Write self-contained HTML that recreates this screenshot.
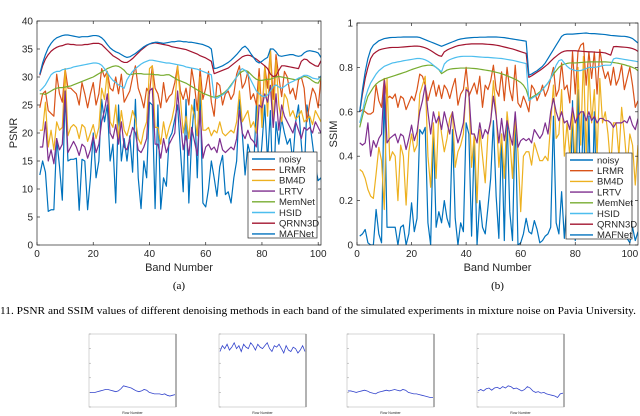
<!DOCTYPE html>
<html><head><meta charset="utf-8"><style>
body{margin:0;background:#fff;width:640px;height:416px;overflow:hidden}
svg{display:block}
text{font-family:"Liberation Sans",sans-serif;fill:#262626}
.serif{font-family:"Liberation Serif",serif;fill:#000}
</style></head><body>
<svg id="fig" width="640" height="416"></svg>
<script>
const bands=[];for(let i=1;i<=103;i++)bands.push(i);
const seriesNames=["noisy","LRMR","BM4D","LRTV","MemNet","HSID","QRNN3D","MAFNet"];
const seriesColors=["#0072BD","#D95319","#EDB120","#7E2F8E","#77AC30","#4DBEEE","#A2142F","#0072BD"];
const psnrNoisy=[12.5,15,13,6,6.3,6.3,19,14,8,27,15,15.3,15.3,15.5,6.2,15.3,15,6.3,12,20,12,15,26,22,25,15,18,7.5,25,15,19,15,19.5,13,26,12,6.5,15,12,25.5,25,6.5,25,6.4,12,10.5,19,20,22.5,25,17,9.5,26,7.5,19,26,12,27,7.5,6.8,10,15,12,8.7,14,16,9,9.5,7.5,12,15,26,20,12.5,18,16,13,25,12,18,25,15,24,7.5,22,18,22.5,20,18,19,15,22,25,18,12,25,22,18,14,11.5,12,8,11];
const psnrLRMR=[24.5,27,27.5,24,23.5,23,30.5,27,25.5,31.5,28,28,27.5,27,25,29,27,24.5,27,29,25,27,31.5,30,31,28,27.5,30,27,30.5,25.5,26.5,27.5,30,32,28,26.5,24.5,28,27,32,28,27,24.5,29,25.5,26.5,27,29,32,27.5,26,28,25,31.5,28.5,24,31.5,26,28,31,25.5,23,29,28.5,25,27,27.5,26,27,30.5,32,28,29,31,26,27,25,31.5,23,32,28,35,26,34,30,26.5,31,30,27,28,26,29.5,30,28,22,25.5,28,27,24.5,30,27,25];
const psnrBM4D=[20.5,20.5,25.5,17.5,20.5,17,22,20.5,21,31.5,19.5,21,21.5,21,19,21.5,21,18.5,20,21.5,19,21,28,26,31,22,21,25,19,24,20.5,19.5,21.5,24,22.5,19,18,20.5,22,31.5,32,21,21,18,22,19,21,22.5,25,32,26,20,23,19,25,23,19.5,30,20.5,20.5,21,19.5,20.5,20,22,20,19.5,20,20.5,20,22,27.5,22,23,24,21,22,20,30,21,32,23,35,21,33,25,22,27,26,23,24,22.5,23,24,22,22.5,23,21.5,24,23,22,25,20];
const psnrLRTV=[17.5,17.5,22,15,17,14.5,19,17,18,27.5,16.5,17.5,18.5,17.5,16,18,17.5,15.5,17,19.5,16.5,18,22,24,27,20,19,21.5,18,22,17.5,17,19,21,20,17,16.5,17.5,19,27.5,28,18,18,15.5,19,16.5,18,19,20,27.5,22,17,19.5,16,21,18.5,16,24,15.5,17.5,18,17,17.5,16.5,19,17,16.5,17,17.5,17,19,24,20,19,20.5,19,18.5,17.5,25,24.5,27,25.5,28.5,21,27,20.5,25,23,22,21,20,22,20.5,19,21,20.5,21,20,22,21,20,22,17.5];
const psnrMemNet=[27,27,26.9,27.2,27.5,27.8,28,28.1,28.1,28.2,28.3,28.4,28.6,28.8,29,29.2,29.4,29.6,29.8,30,30.3,30.6,30.9,31.2,31.5,31.7,31.9,32,31.9,31.6,31.2,30.6,30.4,30.5,30.6,30.6,30.6,30.5,30.5,30.5,30.5,30.4,30.4,30.3,30.3,30.4,30.4,30.1,29.8,29.5,29.3,29.1,28.9,28.6,28.3,28,27.7,27.4,27.1,26.9,26.7,26.5,26.4,26.5,26.7,27,27.4,27.9,28.6,29.3,30,30.6,31,31.2,31,30.5,30,29.6,29.4,29.4,29.5,29.6,29.6,29.8,30,30.1,30,29.9,29.8,29.7,29.6,29.5,29.6,29.9,30.1,30,29.7,29.3,29,28.9,29.8,29.2,28.9];
const psnrHSID=[27.5,28,28.6,29.5,30.4,30.8,31,31,31.3,31.4,31.5,31.6,31.8,31.9,32,32.1,32.2,32.3,32.4,32.5,32.5,32.4,32.1,31.5,30.8,30,29.4,29,28.6,28.3,28,29.5,30.3,31,31.5,31.9,32.3,32.6,32.8,33,33,32.9,32.8,32.7,32.6,32.5,32.5,32.4,32.3,32.2,32.1,32,31.8,31.7,31.6,31.5,31.4,31.2,31,30.8,30.6,30.4,26.3,26.2,26.5,26.8,27.2,27.8,28.4,29.2,30,31,31.5,31.2,30.5,29.5,28.5,27.5,27,26.6,26.5,26.8,27.5,28.3,28.6,28.2,28,28.3,28.7,29,29.2,29.5,29.8,30,30.3,30.3,30.1,29.8,29.7,29.6,30.2,29.8,30];
const psnrQRNN3D=[30.3,32,33.2,34,34.6,35,35.3,35.5,35.6,35.8,35.9,35.8,35.8,35.7,35.7,35.7,35.8,35.8,35.9,36,36,36,35.8,35.3,34.8,34.3,33.8,33.5,33.2,32.8,32.6,32.6,32.9,33.3,33.8,34.3,34.8,35.2,35.6,35.9,36,36.1,36,35.9,35.8,35.7,35.6,35.4,35.3,35.2,35.1,35,34.9,34.7,34.5,34.3,34.1,33.8,33.6,33.4,33.1,32.8,30.6,30.8,31,31.2,31.4,31.6,32,32.4,32.8,33.2,33.6,33.8,33.9,33.8,33.5,33.2,32.8,32.4,32,31.5,30.5,30.1,30.2,31.2,32,32,31.9,31.8,31.7,31.6,31.5,32.8,33.2,33.1,32.6,32.3,32,31.9,32.9,32.3,31.8];
const psnrMAFNet=[30.5,32.5,34,35.2,36,36.6,37,37.2,37.4,37.5,37.5,37.4,37.3,37.2,37.1,37.2,37.2,37.2,37.3,37.4,37.4,37.3,37,36.5,35.8,35.2,34.8,34.5,34.3,34,33.7,33.5,33.6,33.9,34.2,34.6,35,35.4,35.7,35.9,36.1,36.2,36.2,36.1,36,36.1,36.2,36.3,36.3,36.4,36.4,36.3,36.3,36.2,36.2,36.1,36,35.9,35.8,35.6,35.4,35,31.5,31.6,31.8,32,32.3,32.6,33,33.5,34,34.6,35.2,35.5,35,34.2,33.5,32.8,32.5,32.8,33.2,33.5,35,35,34.5,33.8,33.7,33.8,33.9,34,34,33.8,33.7,33.8,34.3,34.6,34.7,34.6,34.5,34.3,33.5,34,33.8];
const ssimNoisy=[0.04,0.05,0.07,0.01,0,0,0.16,0.05,0.01,0.72,0.08,0.08,0.08,0.08,0,0.08,0.09,0,0.05,0.19,0.06,0.12,0.52,0.5,0.53,0.1,0,0.52,0.08,0.15,0.1,0.2,0.12,0.08,0.52,0.12,0,0.1,0.06,0.55,0.5,0.04,0.48,0,0.2,0.08,0.05,0.17,0.3,0.56,0.22,0.03,0.5,0.02,0.58,0.15,0.02,0.58,0,0.01,0.05,0.12,0.06,0.05,0.11,0.07,0.01,0.02,0.04,0.05,0.08,0.58,0.1,0.05,0.24,0.03,0.2,0.05,0.65,0.02,0.7,0.2,0.6,0.1,0.58,0.05,0.6,0.1,0.4,0.2,0.15,0.1,0.05,0.1,0.15,0.2,0.1,0.05,0.03,0.01,0.08,0.02,0.06];
const ssimLRMR=[0.6,0.61,0.6,0.59,0.59,0.6,0.72,0.65,0.62,0.75,0.66,0.67,0.66,0.68,0.62,0.67,0.66,0.61,0.64,0.67,0.65,0.7,0.77,0.76,0.72,0.65,0.7,0.74,0.67,0.72,0.66,0.72,0.7,0.66,0.71,0.75,0.63,0.68,0.7,0.8,0.67,0.7,0.73,0.68,0.76,0.62,0.72,0.7,0.74,0.81,0.7,0.67,0.78,0.65,0.8,0.7,0.65,0.81,0.64,0.62,0.67,0.64,0.6,0.72,0.7,0.65,0.68,0.72,0.67,0.7,0.75,0.8,0.67,0.7,0.82,0.7,0.72,0.64,0.87,0.68,0.87,0.9,0.91,0.72,0.87,0.75,0.87,0.68,0.88,0.8,0.75,0.78,0.72,0.8,0.72,0.75,0.81,0.7,0.75,0.8,0.72,0.62,0.65];
const ssimBM4D=[0.34,0.33,0.3,0.25,0.22,0.21,0.32,0.44,0.38,0.16,0.75,0.38,0.42,0.4,0.2,0.45,0.4,0.18,0.42,0.5,0.42,0.45,0.68,0.72,0.76,0.4,0.26,0.55,0.3,0.6,0.5,0.42,0.48,0.57,0.6,0.35,0.42,0.45,0.5,0.71,0.68,0.35,0.5,0.19,0.52,0.4,0.28,0.5,0.55,0.74,0.6,0.35,0.5,0.3,0.6,0.48,0.3,0.57,0.42,0.15,0.4,0.42,0.42,0.36,0.46,0.42,0.38,0.38,0.4,0.38,0.55,0.72,0.48,0.5,0.7,0.4,0.55,0.4,0.6,0.35,0.8,0.45,0.85,0.4,0.8,0.55,0.7,0.4,0.75,0.55,0.6,0.5,0.35,0.55,0.55,0.4,0.62,0.5,0.35,0.5,0.45,0.27,0.45];
const ssimLRTV=[0.46,0.45,0.46,0.55,0.4,0.47,0.44,0.48,0.5,0.74,0.46,0.48,0.49,0.5,0.46,0.5,0.49,0.43,0.48,0.54,0.47,0.51,0.6,0.65,0.72,0.6,0.5,0.6,0.55,0.58,0.52,0.6,0.55,0.5,0.6,0.52,0.46,0.5,0.55,0.7,0.69,0.5,0.5,0.46,0.55,0.48,0.52,0.5,0.56,0.67,0.58,0.46,0.57,0.47,0.56,0.5,0.45,0.6,0.44,0.47,0.48,0.47,0.48,0.46,0.52,0.5,0.48,0.5,0.55,0.5,0.6,0.66,0.6,0.56,0.6,0.55,0.56,0.52,0.62,0.55,0.58,0.6,0.6,0.56,0.6,0.56,0.58,0.55,0.57,0.57,0.56,0.56,0.55,0.53,0.55,0.55,0.55,0.56,0.55,0.58,0.54,0.52,0.57];
const ssimMemNet=[0.53,0.58,0.63,0.67,0.69,0.71,0.725,0.735,0.742,0.748,0.752,0.756,0.76,0.764,0.768,0.772,0.776,0.78,0.785,0.79,0.794,0.798,0.802,0.806,0.808,0.81,0.81,0.808,0.8,0.79,0.772,0.78,0.788,0.792,0.794,0.795,0.796,0.797,0.797,0.797,0.797,0.796,0.795,0.794,0.792,0.79,0.788,0.786,0.784,0.781,0.778,0.775,0.771,0.767,0.762,0.757,0.752,0.746,0.74,0.732,0.72,0.7,0.66,0.665,0.672,0.68,0.69,0.7,0.715,0.73,0.75,0.77,0.785,0.8,0.81,0.815,0.818,0.82,0.82,0.82,0.821,0.822,0.823,0.824,0.825,0.825,0.825,0.825,0.825,0.825,0.825,0.824,0.823,0.822,0.82,0.818,0.815,0.812,0.808,0.805,0.8,0.795,0.785];
const ssimHSID=[0.55,0.6,0.66,0.7,0.73,0.75,0.77,0.785,0.795,0.805,0.81,0.815,0.82,0.822,0.825,0.827,0.83,0.832,0.834,0.836,0.838,0.84,0.84,0.838,0.834,0.828,0.82,0.81,0.8,0.79,0.78,0.815,0.828,0.835,0.84,0.844,0.847,0.849,0.85,0.85,0.85,0.85,0.849,0.848,0.847,0.846,0.845,0.845,0.844,0.843,0.842,0.841,0.84,0.838,0.836,0.834,0.832,0.829,0.826,0.823,0.82,0.817,0.65,0.66,0.668,0.675,0.685,0.7,0.715,0.73,0.75,0.78,0.81,0.83,0.835,0.82,0.805,0.795,0.79,0.786,0.785,0.786,0.79,0.795,0.8,0.8,0.8,0.802,0.805,0.808,0.81,0.81,0.81,0.838,0.842,0.84,0.838,0.836,0.834,0.832,0.83,0.828,0.825];
const ssimQRNN3D=[0.6,0.68,0.75,0.8,0.84,0.86,0.87,0.878,0.882,0.885,0.887,0.889,0.89,0.89,0.89,0.891,0.892,0.893,0.894,0.895,0.896,0.896,0.895,0.892,0.888,0.883,0.876,0.868,0.86,0.853,0.85,0.87,0.878,0.884,0.889,0.894,0.898,0.9,0.902,0.904,0.905,0.906,0.906,0.906,0.906,0.906,0.905,0.904,0.903,0.902,0.9,0.898,0.895,0.892,0.889,0.886,0.883,0.879,0.875,0.871,0.867,0.863,0.755,0.762,0.77,0.778,0.786,0.795,0.805,0.815,0.828,0.84,0.85,0.86,0.868,0.873,0.875,0.875,0.875,0.875,0.874,0.873,0.872,0.871,0.87,0.87,0.869,0.868,0.868,0.867,0.865,0.86,0.855,0.893,0.894,0.893,0.892,0.891,0.89,0.888,0.885,0.88,0.872];
const ssimMAFNet=[0.6,0.7,0.78,0.84,0.88,0.9,0.91,0.92,0.925,0.93,0.932,0.934,0.935,0.935,0.936,0.936,0.937,0.937,0.937,0.937,0.937,0.937,0.935,0.93,0.925,0.92,0.915,0.91,0.905,0.9,0.895,0.9,0.905,0.91,0.915,0.92,0.925,0.928,0.93,0.932,0.933,0.934,0.935,0.935,0.936,0.936,0.936,0.937,0.937,0.937,0.937,0.936,0.935,0.934,0.932,0.93,0.928,0.926,0.924,0.922,0.92,0.918,0.765,0.77,0.778,0.785,0.795,0.805,0.82,0.84,0.86,0.88,0.9,0.92,0.94,0.948,0.95,0.95,0.95,0.951,0.952,0.953,0.954,0.955,0.953,0.952,0.952,0.951,0.95,0.949,0.948,0.946,0.944,0.943,0.942,0.941,0.94,0.94,0.938,0.935,0.93,0.92,0.91];
const xTicks=[0,20,40,60,80,100];
const psnrTicks=[0,5,10,15,20,25,30,35,40];
const ssimTicks=[0,0.2,0.4,0.6,0.8,1];
const ssimTickLabels=["0","0.2","0.4","0.6","0.8","1"];
const mini1=[0.10,0.10,0.10,0.105,0.11,0.115,0.12,0.12,0.115,0.11,0.105,0.11,0.125,0.145,0.14,0.135,0.13,0.12,0.11,0.105,0.11,0.12,0.115,0.1,0.095,0.09,0.09,0.09,0.085,0.09,0.08,0.075,0.08,0.085];
const mini2=[0.38,0.42,0.4,0.43,0.39,0.41,0.44,0.4,0.42,0.38,0.43,0.41,0.4,0.44,0.42,0.39,0.43,0.41,0.4,0.42,0.44,0.4,0.38,0.42,0.41,0.43,0.4,0.37,0.42,0.39,0.38,0.41,0.4,0.37,0.39,0.42,0.38];
const mini3=[0.11,0.11,0.105,0.1,0.105,0.11,0.115,0.11,0.1,0.095,0.09,0.1,0.105,0.11,0.115,0.11,0.115,0.12,0.115,0.11,0.12,0.115,0.1,0.095,0.09,0.09,0.085,0.08,0.075,0.07,0.065,0.065];
const mini4=[0.11,0.12,0.11,0.125,0.13,0.115,0.13,0.135,0.125,0.14,0.13,0.145,0.14,0.125,0.13,0.12,0.11,0.12,0.14,0.13,0.11,0.1,0.105,0.095,0.1,0.09,0.085,0.08,0.075,0.065,0.09,0.095];
const psnrData=[psnrNoisy,psnrLRMR,psnrBM4D,psnrLRTV,psnrMemNet,psnrHSID,psnrQRNN3D,psnrMAFNet];
const ssimData=[ssimNoisy,ssimLRMR,ssimBM4D,ssimLRTV,ssimMemNet,ssimHSID,ssimQRNN3D,ssimMAFNet];

const NS="http://www.w3.org/2000/svg";
const svg=document.getElementById('fig');
function mk(tag,attrs,parent,txt){const e=document.createElementNS(NS,tag);for(const k in attrs)e.setAttribute(k,attrs[k]);if(txt!==undefined)e.textContent=txt;(parent||svg).appendChild(e);return e;}

function drawPanel(cfg){
  const g=mk('g',{},svg);
  
  
  const sx=v=>cfg.L+(v-cfg.x0)/(cfg.x1-cfg.x0)*(cfg.R-cfg.L);
  const sy=v=>cfg.B-(v-cfg.y0)/(cfg.y1-cfg.y0)*(cfg.B-cfg.T);
  const clipId=cfg.name+'-clip';
  const cp=mk('clipPath',{id:clipId},g);mk('rect',{x:cfg.L,y:cfg.T,width:cfg.R-cfg.L,height:cfg.B-cfg.T},cp);
  const lines=mk('g',{'clip-path':'url(#'+clipId+')'},g);
  cfg.data.forEach((arr,si)=>{
    const pts=arr.map((v,i)=>sx(bands[i]).toFixed(2)+','+sy(v).toFixed(2)).join(' ');
    const pl=mk('polyline',{points:pts,fill:'none',stroke:seriesColors[si],'stroke-width':1.2,'stroke-linejoin':'round'},lines);
    
    
  });
  const fr=mk('rect',{x:cfg.L,y:cfg.T,width:cfg.R-cfg.L,height:cfg.B-cfg.T,fill:'none',stroke:'#262626','stroke-width':0.7},g);
  
  
  xTicks.forEach(t=>{const x=sx(t);
    mk('line',{x1:x,x2:x,y1:cfg.B,y2:cfg.B-3,stroke:'#262626','stroke-width':0.7},g);
    mk('line',{x1:x,x2:x,y1:cfg.T,y2:cfg.T+3,stroke:'#262626','stroke-width':0.7},g);
    const tl=mk('text',{x:x,y:cfg.B+12,'font-size':10,'text-anchor':'middle'},g,String(t));
    
    
  });
  cfg.yTicks.forEach((t,i)=>{const y=sy(t);
    mk('line',{x1:cfg.L,x2:cfg.L+3,y1:y,y2:y,stroke:'#262626','stroke-width':0.7},g);
    mk('line',{x1:cfg.R,x2:cfg.R-3,y1:y,y2:y,stroke:'#262626','stroke-width':0.7},g);
    const tl=mk('text',{x:cfg.L-4,y:y+3.5,'font-size':10,'text-anchor':'end'},g,cfg.yLabels[i]);
    
    
  });
  const xt=mk('text',{x:(cfg.L+cfg.R)/2,y:cfg.B+26,'font-size':11,'text-anchor':'middle'},g,'Band Number');
  
  
  const yt=mk('text',{x:0,y:0,'font-size':11,'text-anchor':'middle',transform:`translate(${cfg.yTitleX},${(cfg.T+cfg.B)/2}) rotate(-90)`},g,cfg.yTitle);
  
  
  const sub=mk('text',{x:(cfg.L+cfg.R)/2,y:cfg.B+44,'font-size':11,'text-anchor':'middle',class:'serif'},g,cfg.sub);
  
  
  const lg=mk('g',{},g);
  
  
  mk('rect',{x:cfg.lx,y:cfg.ly,width:cfg.lw,height:86,fill:'#fff',stroke:'#262626','stroke-width':0.7},lg);
  seriesNames.forEach((n,i)=>{const y=cfg.ly+7+i*10.7;
    const e=mk('g',{},lg);
    
    
    mk('line',{x1:cfg.lx+4,x2:cfg.lx+27,y1:y,y2:y,stroke:seriesColors[i],'stroke-width':1.4},e);
    mk('text',{x:cfg.lx+31,y:y+3.3,'font-size':9.5},e,n);
  });
}
drawPanel({name:'psnr-chart',L:37,R:321,T:21,B:245,x0:0,x1:101,y0:0,y1:40,data:psnrData,yTicks:psnrTicks,yLabels:psnrTicks.map(String),yTitle:'PSNR',yTitleX:17,sub:'(a)',lx:248,ly:152,lw:69});
drawPanel({name:'ssim-chart',L:357,R:638,T:23,B:245,x0:0,x1:103,y0:0,y1:1,data:ssimData,yTicks:ssimTicks,yLabels:ssimTickLabels,yTitle:'SSIM',yTitleX:337,sub:'(b)',lx:566,ly:153,lw:66});

const cap=mk('text',{x:0,y:314,'font-size':11,class:'serif',textLength:636,lengthAdjust:'spacingAndGlyphs'},svg,'11.   PSNR and SSIM values of different denoising methods in each band of the simulated experiments in mixture noise on Pavia University.');



const minis=[mini1,mini2,mini3,mini4];
const miniX=[89,219,347,477];
minis.forEach((arr,k)=>{
  const L=miniX[k],R=L+87,T=334,B=407;
  const g=mk('g',{},svg);
  
  
  mk('rect',{x:L,y:T,width:R-L,height:B-T,fill:'#fff',stroke:'#bbb','stroke-width':0.6},g);
  mk('line',{x1:R,x2:R,y1:T,y2:B,stroke:'#999','stroke-width':1.5},g);
  for(let j=0;j<=5;j++){const y=B-j*(B-T)/5;mk('line',{x1:L,x2:L+2,y1:y,y2:y,stroke:'#999','stroke-width':0.5},g);}
  const pts=arr.map((v,i)=>(L+1+i/(arr.length-1)*(R-L-2)).toFixed(2)+','+(B-v/0.5*(B-T)).toFixed(2)).join(' ');
  const pl=mk('polyline',{points:pts,fill:'none',stroke:'#3344cc','stroke-width':0.8},g);
  
  
  mk('text',{x:(L+R)/2,y:B+7,'font-size':3.5,'text-anchor':'middle',fill:'#888'},g,'Row Number');
});
</script>
</body></html>
